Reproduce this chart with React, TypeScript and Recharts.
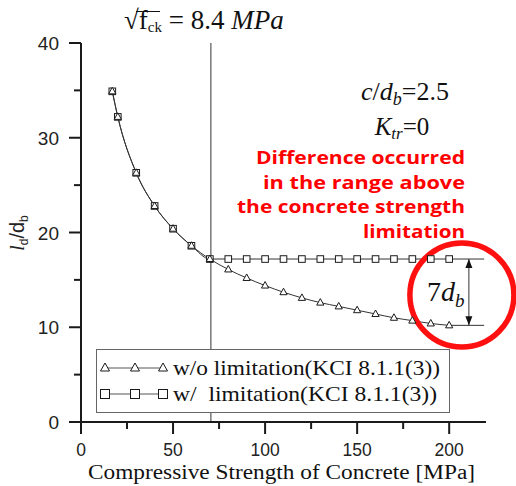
import React from 'react';
import { LineChart, Line, XAxis, YAxis, ReferenceLine, ReferenceDot, Legend } from 'recharts';

// compressive strength fck [MPa] and ld/db
const fck = [17, 20, 30, 40, 50, 60, 70, 80, 90, 100, 110, 120, 130, 140, 150, 160, 170, 180, 190, 200];
const withoutLimit = [34.9, 32.2, 26.3, 22.8, 20.4, 18.6, 17.2, 16.1, 15.2, 14.4, 13.7, 13.1, 12.6, 12.2, 11.8, 11.4, 11.0, 10.7, 10.4, 10.2];
const withLimit = [34.9, 32.2, 26.3, 22.8, 20.4, 18.6, 17.2, 17.2, 17.2, 17.2, 17.2, 17.2, 17.2, 17.2, 17.2, 17.2, 17.2, 17.2, 17.2, 17.2];

const xTicks = [0, 25, 50, 75, 100, 125, 150, 175, 200];
const yTicks = [0, 5, 10, 15, 20, 25, 30, 35, 40];
const limitFck = 70.56; // sqrt(fck) = 8.4
const seriesNames = ['w/o limitation(KCI 8.1.1(3))', 'w/  limitation(KCI 8.1.1(3))'];
const redNote = ['Difference occurred', 'in the range above', 'the concrete strength', 'limitation'];
const redNoteWidths = [209, 202, 228, 102];

const data = fck.map((x, i) => ({ x, wo: withoutLimit[i], w: withLimit[i] }));

const INK = '#1a1a1a';
const SERIF = '"Liberation Serif", "DejaVu Serif", serif';
const SANS = '"Liberation Sans", Arial, sans-serif';

// draws tick marks by hand so major / minor ticks can have different lengths
const AxisTick = (props: any) => {
  const { x, y, payload, side } = props;
  const v = payload.value;
  const horiz = side === 'bottom' || side === 'top';
  const major = horiz ? v % 50 === 0 : v % 10 === 0;
  const len = major ? 12 : 7;
  if (side === 'bottom') {
    return (
      <g>
        <line x1={x} x2={x} y1={y} y2={y + len} stroke={INK} strokeWidth={2} />
        {major && (
          <text x={x} y={y + 34} textAnchor="middle" fontFamily={SANS} fontSize={17.5} fill="#222">
            {v}
          </text>
        )}
      </g>
    );
  }
  if (side === 'top') {
    return <line x1={x} x2={x} y1={y} y2={y + len} stroke={INK} strokeWidth={2} />;
  }
  if (side === 'left') {
    return (
      <g>
        <line x1={x} x2={x - len} y1={y} y2={y} stroke={INK} strokeWidth={2} />
        {major && (
          <text x={x - 22} y={y + 7} textAnchor="end" fontFamily={SANS} fontSize={19} fill="#222">
            {v}
          </text>
        )}
      </g>
    );
  }
  return <line x1={x} x2={x - len} y1={y} y2={y} stroke={INK} strokeWidth={2} />;
};

const TriDot = (p: any) => {
  if (p.cx == null || p.cy == null) return <g key={p.index} />;
  const { cx, cy } = p;
  return (
    <path
      key={p.index}
      d={`M${cx},${cy - 4} L${cx + 3.6},${cy + 2.5} L${cx - 3.6},${cy + 2.5} Z`}
      fill="#fff"
      stroke={INK}
      strokeWidth={1}
    />
  );
};

const SqDot = (p: any) => {
  if (p.cx == null || p.cy == null) return <g key={p.index} />;
  return <rect key={p.index} x={p.cx - 3.3} y={p.cy - 3.3} width={6.6} height={6.6} fill="#fff" stroke={INK} strokeWidth={1} />;
};

const renderLegend = () => (
  <svg width={354} height={64} style={{ display: 'block' }}>
    <rect x={0.5} y={0.5} width={353} height={63} fill="#fff" stroke="#666" strokeWidth={1} />
    {seriesNames.map((name, i) => {
      const cy = i === 0 ? 19 : 45;
      const xs = [9, 39, 67];
      return (
        <g key={name}>
          <line x1={9} x2={67} y1={cy} y2={cy} stroke="#555" strokeWidth={1} />
          {xs.map((mx) =>
            i === 0 ? (
              <path key={mx} d={`M${mx},${cy - 5} L${mx + 4.5},${cy + 3} L${mx - 4.5},${cy + 3} Z`} fill="#fff" stroke={INK} strokeWidth={1} />
            ) : (
              <rect key={mx} x={mx - 4.5} y={cy - 4.5} width={9} height={9} fill="#fff" stroke={INK} strokeWidth={1} />
            )
          )}
          <text
            x={77}
            y={cy + 7}
            fontFamily={SERIF}
            fontSize={22}
            fill="#111"
            textLength={i === 0 ? 267 : 264}
            lengthAdjust="spacingAndGlyphs"
            style={{ whiteSpace: 'pre' }}
          >
            {name}
          </text>
        </g>
      );
    })}
  </svg>
);

const ArrowUp = (p: any) => <path d={`M${p.cx},${p.cy} l-3.5,9 l7,0 z`} fill="#111" />;
const ArrowDown = (p: any) => <path d={`M${p.cx},${p.cy} l-3.5,-9 l7,0 z`} fill="#111" />;

export default function App() {
  return (
    <div style={{ position: 'absolute', left: 0, top: 0, width: 516, height: 486, background: '#fff' }}>
      <LineChart width={516} height={486} data={data} margin={{ top: 43, right: 30, left: 0, bottom: 0 }}>
        <XAxis
          xAxisId="b"
          dataKey="x"
          type="number"
          domain={[0, 220]}
          ticks={xTicks}
          interval={0}
          height={64}
          tickSize={0}
          tickMargin={0}
          tickLine={false}
          axisLine={{ stroke: INK, strokeWidth: 2 }}
          tick={(p: any) => <AxisTick {...p} side="bottom" />}
        />
        <XAxis
          xAxisId="t"
          orientation="top"
          type="number"
          domain={[0, 220]}
          ticks={xTicks}
          interval={0}
          height={0}
          tickSize={0}
          tickMargin={0}
          tickLine={false}
          axisLine={{ stroke: INK, strokeWidth: 2 }}
          tick={(p: any) => <AxisTick {...p} side="top" />}
        />
        <YAxis
          yAxisId="l"
          type="number"
          domain={[0, 40]}
          ticks={yTicks}
          interval={0}
          width={81}
          tickSize={0}
          tickMargin={0}
          tickLine={false}
          axisLine={{ stroke: INK, strokeWidth: 2 }}
          tick={(p: any) => <AxisTick {...p} side="left" />}
        />
        <YAxis
          yAxisId="r"
          orientation="right"
          type="number"
          domain={[0, 40]}
          ticks={yTicks}
          interval={0}
          width={0}
          tickSize={0}
          tickMargin={0}
          tickLine={false}
          axisLine={{ stroke: INK, strokeWidth: 2 }}
          tick={(p: any) => <AxisTick {...p} side="right" />}
        />

        <ReferenceLine xAxisId="b" yAxisId="l" x={limitFck} stroke="#333" strokeWidth={1} />

        {/* dimension lines for the 7db gap */}
        <ReferenceLine xAxisId="b" yAxisId="l" segment={[{ x: 200, y: 17.2 }, { x: 219, y: 17.2 }]} stroke="#333" strokeWidth={1} />
        <ReferenceLine xAxisId="b" yAxisId="l" segment={[{ x: 200, y: 10.2 }, { x: 219, y: 10.2 }]} stroke="#333" strokeWidth={1} />
        <ReferenceLine xAxisId="b" yAxisId="l" segment={[{ x: 210.7, y: 17.2 }, { x: 210.7, y: 10.2 }]} stroke="#333" strokeWidth={1} />
        <ReferenceDot xAxisId="b" yAxisId="l" x={210.7} y={17.2} shape={ArrowUp} />
        <ReferenceDot xAxisId="b" yAxisId="l" x={210.7} y={10.2} shape={ArrowDown} />

        <Line
          xAxisId="b"
          yAxisId="l"
          dataKey="w"
          name={seriesNames[1]}
          type="monotone"
          stroke="#333"
          strokeWidth={1}
          dot={SqDot}
          activeDot={false}
          isAnimationActive={false}
        />
        <Line
          xAxisId="b"
          yAxisId="l"
          dataKey="wo"
          name={seriesNames[0]}
          type="monotone"
          stroke="#333"
          strokeWidth={1}
          dot={TriDot}
          activeDot={false}
          isAnimationActive={false}
        />

        <ReferenceDot xAxisId="b" yAxisId="l" x={206.9} y={13.4} r={52} fill="none" stroke="#ff1010" strokeWidth={5.5} />

        <Legend
          layout="horizontal"
          verticalAlign="middle"
          align="center"
          content={renderLegend}
          wrapperStyle={{ left: 96, top: 349, width: 354, height: 64 }}
        />
      </LineChart>

      {/* text annotations */}
      <svg width={516} height={486} style={{ position: 'absolute', left: 0, top: 0, pointerEvents: 'none' }}>
        <text x={124} y={29} fontFamily={SERIF} fontSize={27} fill="#111">
          <tspan>√</tspan>
          <tspan>f</tspan>
          <tspan fontSize={15} dy={3}>ck</tspan>
          <tspan dy={-3} style={{ whiteSpace: 'pre' }}> = 8.4 </tspan>
          <tspan fontStyle="italic">MPa</tspan>
        </text>
        <line x1={136} x2={160} y1={11.5} y2={11.5} stroke="#111" strokeWidth={1} />

        <text x={405} y={100} textAnchor="middle" fontFamily={SERIF} fontSize={26} fill="#111">
          <tspan fontStyle="italic">c</tspan>
          <tspan>/</tspan>
          <tspan fontStyle="italic">d</tspan>
          <tspan fontStyle="italic" fontSize={18} dy={5}>b</tspan>
          <tspan dy={-5}>=2.5</tspan>
        </text>
        <text x={402} y={135} textAnchor="middle" fontFamily={SERIF} fontSize={25} fill="#111">
          <tspan fontStyle="italic">K</tspan>
          <tspan fontStyle="italic" fontSize={17} dy={4}>tr</tspan>
          <tspan dy={-4}>=0</tspan>
        </text>

        {redNote.map((t, i) => (
          <text
            key={t}
            x={465 - redNoteWidths[i]}
            y={164 + i * 24.5}
            fontFamily='"Open Sans", "Noto Sans", sans-serif'
            fontWeight={700}
            fontSize={18}
            fill="#ff0000"
            textLength={redNoteWidths[i]}
            lengthAdjust="spacingAndGlyphs"
          >
            {t}
          </text>
        ))}

        <text x={427} y={301} fontFamily={SERIF} fontSize={28} fill="#111">
          <tspan>7</tspan>
          <tspan fontStyle="italic">d</tspan>
          <tspan fontStyle="italic" fontSize={19} dy={6}>b</tspan>
        </text>

        <text transform="translate(24,233) rotate(-90)" textAnchor="middle" fontSize={20} fill="#222">
          <tspan fontFamily={SERIF} fontStyle="italic">l</tspan>
          <tspan fontFamily={SANS} fontSize={12} dy={4}>d</tspan>
          <tspan fontFamily={SANS} dy={-4}>/d</tspan>
          <tspan fontFamily={SANS} fontSize={12} dy={4}>b</tspan>
        </text>

        <text
          x={88}
          y={479}
          fontFamily={SERIF}
          fontSize={20}
          fill="#111"
          textLength={387}
          lengthAdjust="spacingAndGlyphs"
        >
          Compressive Strength of Concrete [MPa]
        </text>
      </svg>
    </div>
  );
}
